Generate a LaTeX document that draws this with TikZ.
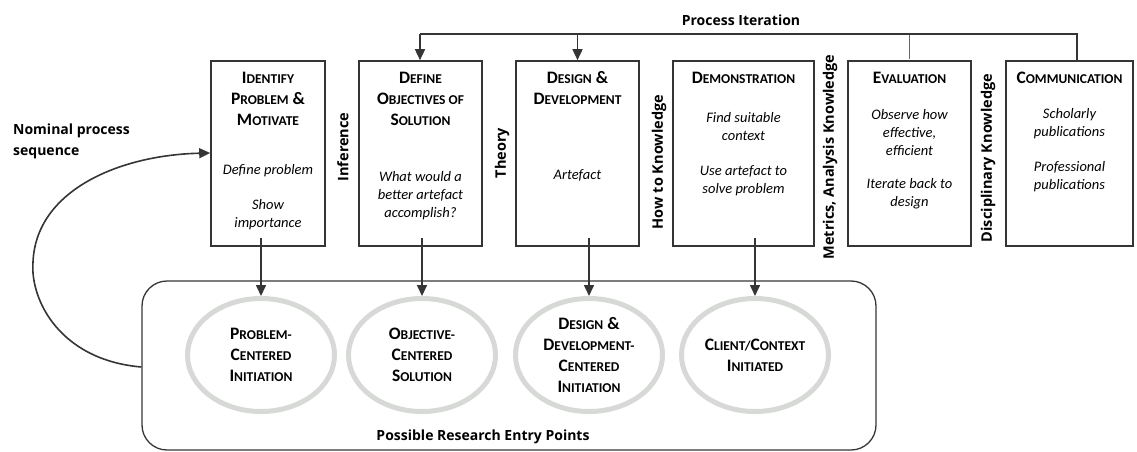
\documentclass[tikz,border=0pt]{standalone}
\usepackage{fontspec}
\setmainfont{Carlito}
\newfontfamily\labfont{Open Sans}
\usetikzlibrary{arrows.meta,shapes.geometric}
\definecolor{boxline}{HTML}{353535}
\definecolor{ellline}{HTML}{D6D9D6}
\definecolor{iterblue}{HTML}{2F6FD0}
\newcommand\TC[2]{{\fontsize{17.5}{21}\selectfont #1}{\fontsize{13.5}{21}\selectfont #2}}
\newcommand\TAmp{{\fontsize{17.5}{21}\selectfont\&}}
\begin{document}
\begin{tikzpicture}[x=1pt,y=-1pt,
  stepbox/.style={draw=boxline,line width=1.6pt,inner sep=0pt,minimum height=185pt},
  ttl/.style={align=center,font=\bfseries\fontsize{17.5}{21}\selectfont,inner sep=0pt},
  body/.style={align=center,font=\itshape\fontsize{14.5}{18}\selectfont,inner sep=0pt},
  sidelab/.style={rotate=90,font=\labfont\bfseries\fontsize{14.5}{16}\selectfont,inner sep=0pt},
  lab/.style={font=\labfont\bfseries\fontsize{14}{21}\selectfont,inner sep=0pt},
  entry/.style={draw=ellline,line width=5pt,ellipse,minimum width=147pt,minimum height=113pt,inner sep=0pt,align=center,font=\bfseries\fontsize{17.5}{21}\selectfont},
  conn/.style={draw=boxline,line width=1.6pt},
  arr/.style={conn,-{Triangle[length=11pt,width=10pt]}}]
\useasboundingbox (0,0) rectangle (1137,452);
% boxes
\node[stepbox,minimum width=114pt] (b1) at (268,153.5) {};
\node[stepbox,minimum width=123pt] (b2) at (420.5,153.5) {};
\node[stepbox,minimum width=123pt] (b3) at (577.5,153.5) {};
\node[stepbox,minimum width=141pt] (b4) at (743.5,153.5) {};
\node[stepbox,minimum width=123pt] (b5) at (909.5,153.5) {};
\node[stepbox,minimum width=127pt] (b6) at (1069.5,153.5) {};
% titles
\node[ttl] (t1) at (268,99) {\TC{I}{DENTIFY}\\\TC{P}{ROBLEM} \TAmp\\\TC{M}{OTIVATE}};
\node[ttl] (t2) at (420.5,99) {\TC{D}{EFINE}\\\TC{O}{BJECTIVES OF}\\\TC{S}{OLUTION}};
\node[ttl] (t3) at (577.5,88.5) {\TC{D}{ESIGN} \TAmp\\\TC{D}{EVELOPMENT}};
\node[ttl] (t4) at (743.5,78) {\TC{D}{EMONSTRATION}};
\node[ttl] (t5) at (909.5,78) {\TC{E}{VALUATION}};
\node[ttl] (t6) at (1069.5,78) {\TC{C}{OMMUNICATION}};
% bodies
\node[body] (d1a) at (268,171) {Define problem};
\node[body] (d1b) at (268,215) {Show\\importance};
\node[body] (d2) at (420.5,196) {What would a\\better artefact\\accomplish?};
\node[body] (d3) at (577.5,175) {Artefact};
\node[body] (d4a) at (743.5,127) {Find suitable\\context};
\node[body] (d4b) at (743.5,181) {Use artefact to\\solve problem};
\node[body] (d5a) at (909.5,133) {Observe how\\effective,\\efficient};
\node[body] (d5b) at (909.5,194) {Iterate back to\\design};
\node[body] (d6a) at (1069.5,124) {Scholarly\\publications};
\node[body] (d6b) at (1069.5,177) {Professional\\publications};
% side labels
\node[sidelab] (l1) at (343,147) {Inference};
\node[sidelab] (l2) at (502,153) {Theory};
\node[sidelab] (l3) at (659,162) {How to Knowledge};
\node[sidelab] (l4) at (830,157) {Metrics, Analysis Knowledge};
\node[sidelab] (l5) at (988,158) {Disciplinary Knowledge};
% process iteration
\node[lab] (pit) at (741,20) {Process Iteration};
\coordinate (pL) at (420,34);
\coordinate (pR) at (1077,34);
\draw[draw=iterblue,line width=1.8pt] (b5.north |- pL) -- ([yshift=0.8pt]b5.north);
\draw[conn] (b6.north -| pR) -- (pR) -- (pL);
\draw[arr] (pL) -- (b2.north -| pL);
\draw[arr] (b3.north |- pL) -- (b3.north);
% container
\node[draw=boxline,line width=1.3pt,rounded corners=25pt,minimum width=734pt,minimum height=169pt,inner sep=0pt] (rr) at (509,365.5) {};
\node[lab] (pre) at (483,437) {Possible Research Entry Points};
% entry ellipses
\node[entry] (e1) at (261,355) {\TC{P}{ROBLEM-}\\\TC{C}{ENTERED}\\\TC{I}{NITIATION}};
\node[entry] (e2) at (422,355) {\TC{O}{BJECTIVE-}\\\TC{C}{ENTERED}\\\TC{S}{OLUTION}};
\node[entry] (e3) at (589,355) {\TC{D}{ESIGN} \TAmp\\\TC{D}{EVELOPMENT-}\\\TC{C}{ENTERED}\\\TC{I}{NITIATION}};
\node[entry] (e4) at (755,355) {\TC{C}{LIENT/}\TC{C}{ONTEXT}\\\TC{I}{NITIATED}};
% down arrows
\draw[arr] (e1.north |- b1.south) ++(0,-9) -- (e1.north);
\draw[arr] (e2.north |- b2.south) ++(0,-9) -- (e2.north);
\draw[arr] (e3.north |- b3.south) ++(0,-9) -- (e3.north);
\draw[arr] (e4.north |- b4.south) ++(0,-9) -- (e4.north);
% nominal sequence
\node[lab,anchor=west,align=left] (nom) at (13,141) {Nominal process\\sequence};
\coordinate (cs) at (142,367);
\coordinate (ce) at (211,153);
\draw[arr] (rr.west |- cs) .. controls (60,360) and (30,300) .. (33,262) .. controls (36,190) and (120,155) .. (b1.west |- ce);
\end{tikzpicture}
\end{document}
